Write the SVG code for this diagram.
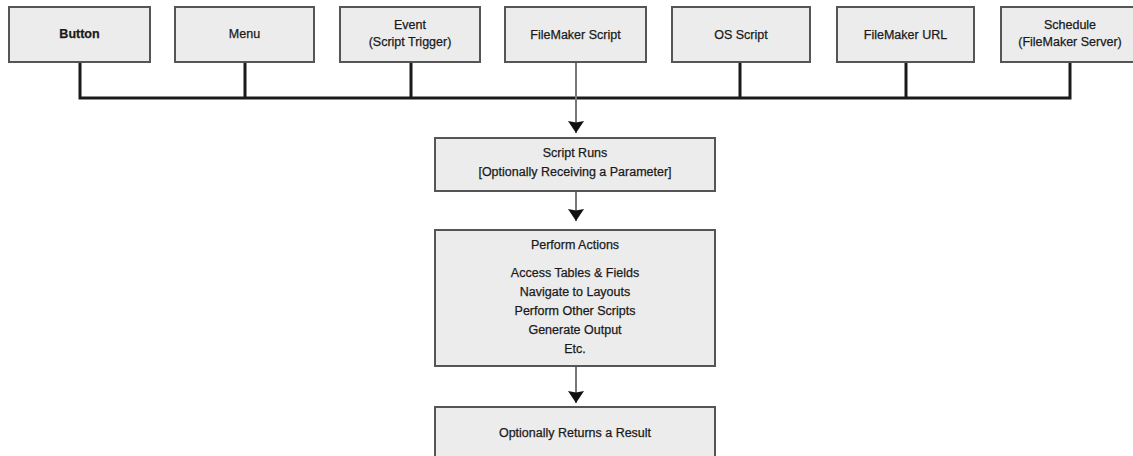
<svg xmlns="http://www.w3.org/2000/svg" width="1133" height="456" viewBox="0 0 1133 456">
<defs>
<marker id="ah" viewBox="0 0 12 16" refX="12" refY="8" markerWidth="12" markerHeight="16" markerUnits="userSpaceOnUse" orient="auto">
<path d="M0,0 L12,8 L0,16 L1.5,8 Z" fill="#111"/>
</marker>
</defs>
<style>
.box{fill:#ececec;stroke:#555;stroke-width:2}
.t{font-family:"Liberation Sans",Arial,sans-serif;font-size:12.5px;fill:#1a1a1a;text-anchor:middle;stroke:#1a1a1a;stroke-width:0.25}
.b{font-weight:bold}
.bus{stroke:#1a1a1a;stroke-width:3;fill:none}
.flow{stroke:#777;stroke-width:2;fill:none}
</style>
<rect width="1133" height="456" fill="#fff"/>
<g id="connectors">
<path class="bus" d="M80,62 V98 M245,62 V98 M411,62 V98 M740,62 V98 M906,62 V98 M1070,62 V98 M78.5,98 H1071.5"/>
<line class="flow" x1="576" y1="62" x2="576" y2="133" marker-end="url(#ah)"/>
<line class="flow" x1="576" y1="191" x2="576" y2="221" marker-end="url(#ah)"/>
<line class="flow" x1="576" y1="366" x2="576" y2="403" marker-end="url(#ah)"/>
</g>
<g id="button"><rect class="box" x="9" y="7" width="141" height="55"/><text class="t b" x="79.5" y="38">Button</text></g>
<g id="menu"><rect class="box" x="175" y="7" width="139" height="55"/><text class="t" x="244.5" y="38">Menu</text></g>
<g id="event"><rect class="box" x="340" y="7" width="140" height="55"/><text class="t" x="410" y="29">Event</text><text class="t" x="410" y="46">(Script Trigger)</text></g>
<g id="fmscript"><rect class="box" x="505" y="7" width="141" height="55"/><text class="t" x="575.5" y="39">FileMaker Script</text></g>
<g id="osscript"><rect class="box" x="672" y="7" width="138" height="55"/><text class="t" x="741" y="39">OS Script</text></g>
<g id="fmurl"><rect class="box" x="837" y="7" width="137" height="55"/><text class="t" x="905.5" y="39">FileMaker URL</text></g>
<g id="schedule"><rect class="box" x="1001" y="7" width="140" height="55"/><text class="t" x="1070" y="29">Schedule</text><text class="t" x="1070" y="46">(FileMaker Server)</text></g>
<g id="scriptruns"><rect class="box" x="435" y="138" width="280" height="53"/><text class="t" x="575" y="157">Script Runs</text><text class="t" x="575" y="176">[Optionally Receiving a Parameter]</text></g>
<g id="perform"><rect class="box" x="435" y="230" width="280" height="136"/><text class="t" x="575" y="249">Perform Actions</text><text class="t" x="575" y="277">Access Tables &amp; Fields</text><text class="t" x="575" y="296">Navigate to Layouts</text><text class="t" x="575" y="315">Perform Other Scripts</text><text class="t" x="575" y="334">Generate Output</text><text class="t" x="575" y="353">Etc.</text></g>
<g id="result"><rect class="box" x="435" y="407" width="280" height="60"/><text class="t" x="575" y="437">Optionally Returns a Result</text></g>
</svg>
